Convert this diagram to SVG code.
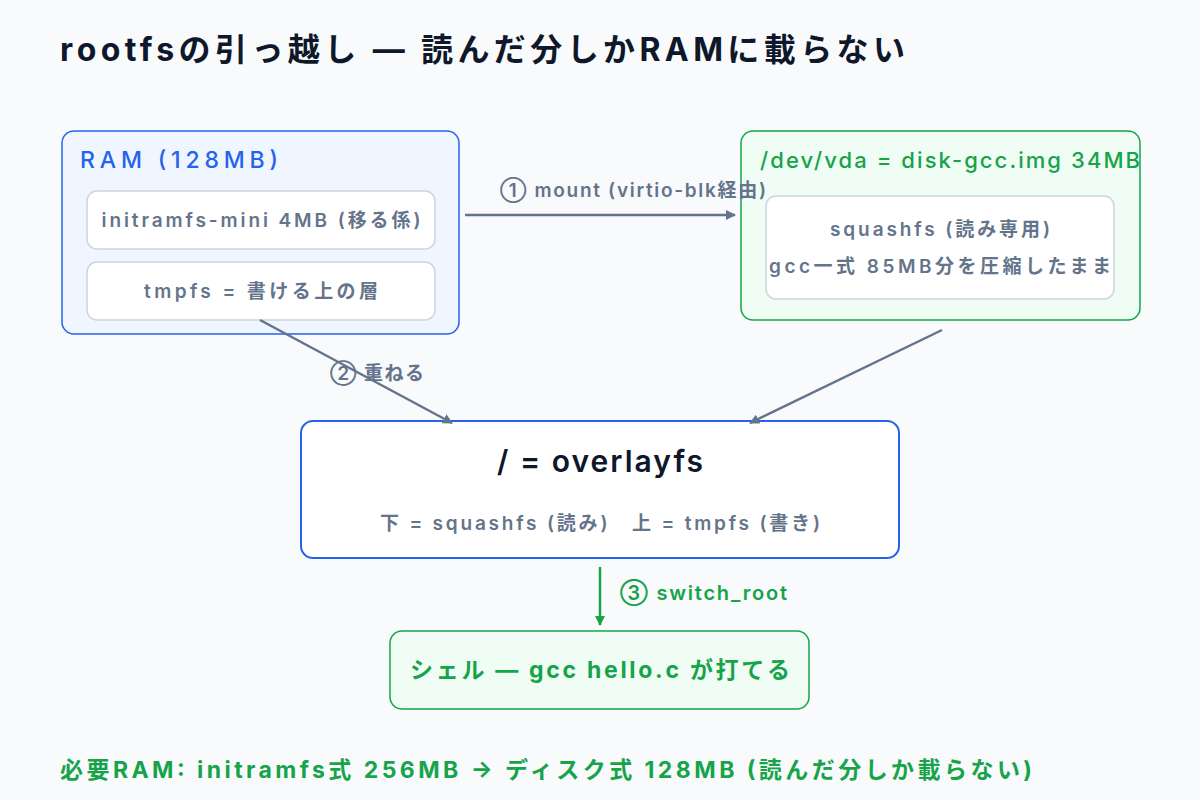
<svg xmlns="http://www.w3.org/2000/svg" width="1200" height="800" viewBox="0 0 1200 800">
<style>
text{font-family:Inter,"Noto Sans CJK JP",sans-serif}
.g{fill:#64748b;font-size:19px;font-weight:600;text-anchor:middle}
.in{fill:#fff;stroke:#cbd5e1;stroke-width:1.5}
.cn{stroke:#64748b;stroke-width:2.5;fill:none;marker-end:url(#ah)}
</style>
<defs>
<marker id="ah" markerWidth="10" markerHeight="10" refX="9" refY="5" orient="auto" markerUnits="userSpaceOnUse"><path d="M0,0L10,5L0,10z" fill="#64748b"/></marker>
<marker id="ahg" markerWidth="10" markerHeight="10" refX="9" refY="5" orient="auto" markerUnits="userSpaceOnUse"><path d="M0,0L10,5L0,10z" fill="#16a34a"/></marker>
</defs>
<rect width="1200" height="800" fill="#f8fafc"/>
<text x="60" y="61" font-size="32" font-weight="700" fill="#0f172a" textLength="845">rootfsの引っ越し — 読んだ分しかRAMに載らない</text>
<g id="ram">
<rect x="62" y="131" width="397" height="203" rx="12" fill="#eff6ff" stroke="#2563eb" stroke-width="1.5"/>
<text x="80" y="168" font-size="23" font-weight="500" fill="#2563eb" textLength="198">RAM (128MB)</text>
</g>
<g id="initramfs"><rect class="in" x="87" y="191" width="348" height="58" rx="10"/><text class="g" x="261" y="227" textLength="319">initramfs-mini 4MB (移る係)</text></g>
<g id="tmpfs"><rect class="in" x="87" y="262" width="348" height="58" rx="10"/><text class="g" x="261" y="298" textLength="234">tmpfs = 書ける上の層</text></g>
<g id="disk">
<rect x="741" y="131" width="399" height="189" rx="12" fill="#f0fdf4" stroke="#16a34a" stroke-width="1.5"/>
<text x="760" y="168" font-size="22" font-weight="500" fill="#16a34a" textLength="380">/dev/vda = disk-gcc.img 34MB</text>
</g>
<g id="squashfs"><rect class="in" x="766" y="196" width="348" height="103" rx="10"/>
<text class="g" x="940" y="236" textLength="220">squashfs (読み専用)</text><text class="g" x="940" y="273" textLength="342">gcc一式 85MB分を圧縮したまま</text></g>
<g id="overlay"><rect x="301" y="421" width="598" height="137" rx="12" fill="#fff" stroke="#2563eb" stroke-width="2"/>
<text x="600" y="472" font-size="30" font-weight="600" fill="#0f172a" text-anchor="middle" textLength="206">/ = overlayfs</text>
<text class="g" x="600" y="530" textLength="440">下 = squashfs (読み)　上 = tmpfs (書き)</text></g>
<g id="shell"><rect x="390" y="631" width="419" height="78" rx="12" fill="#f0fdf4" stroke="#16a34a" stroke-width="1.5"/>
<text x="600" y="678" font-size="23" font-weight="700" fill="#16a34a" text-anchor="middle" textLength="380">シェル — gcc hello.c が打てる</text></g>
<g id="connectors">
<path class="cn" d="M465,215H735"/>
<text class="g" x="633" y="197" textLength="266">① mount (virtio-blk経由)</text>
<path class="cn" d="M260,320L452,423"/>
<text class="g" x="377" y="380" textLength="94">② 重ねる</text>
<path class="cn" d="M942,330L750,423"/>
<path d="M600,567V625" stroke="#16a34a" stroke-width="2.5" marker-end="url(#ahg)"/>
<text x="620" y="600" font-size="20" font-weight="600" fill="#16a34a" textLength="167">③ switch_root</text>
</g>
<text x="60" y="778" font-size="23" font-weight="700" fill="#16a34a" textLength="972">必要RAM: initramfs式 256MB → ディスク式 128MB (読んだ分しか載らない)</text>
</svg>
